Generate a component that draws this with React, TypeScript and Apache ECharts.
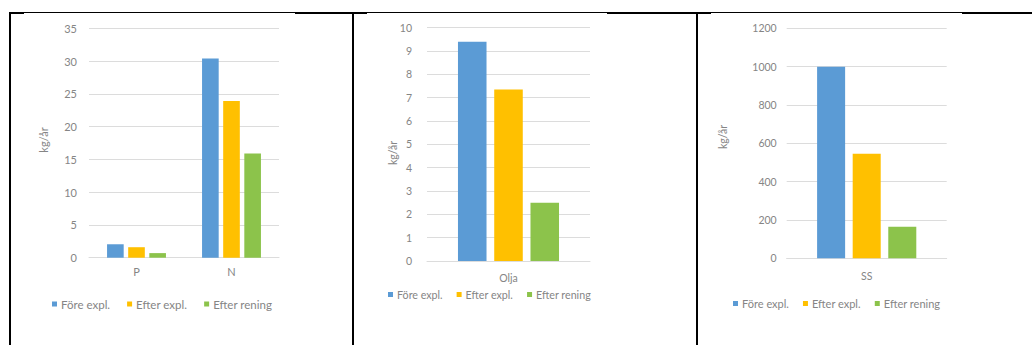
import React, { useEffect, useRef } from "react";
import * as echarts from "echarts";

// ---- data ----
const seriesNames = ["Före expl.", "Efter expl.", "Efter rening"];

const nutrientCategories = ["P", "N"];
const nutrientForeExpl = [2.05, 30.4];
const nutrientEfterExpl = [1.6, 23.9];
const nutrientEfterRening = [0.7, 15.9];

const oilCategories = ["Olja"];
const oilForeExpl = [9.4];
const oilEfterExpl = [7.35];
const oilEfterRening = [2.5];

const ssCategories = ["SS"];
const ssForeExpl = [1000];
const ssEfterExpl = [545];
const ssEfterRening = [165];

const yAxisName = "kg/år";

// ---- styling / layout ----
const colors = ["#5B9BD5", "#FFC000", "#8CC34B"];
const textColor = "#858585";
const gridColor = "#dcdcdc";
const fontFamily = "Lato, 'Open Sans', sans-serif";

const panels = [
  {
    categories: nutrientCategories,
    values: [nutrientForeExpl, nutrientEfterExpl, nutrientEfterRening],
    max: 35,
    interval: 5,
    grid: { left: 89, top: 28.3, width: 190, height: 229.4 },
    yLabelMargin: 12,
    xLabelMargin: 8,
    fontSize: 11,
    name: { x: 43, y: 140 },
    legend: { left: 52, top: 298, fontSize: 11.5, itemGap: 17 },
  },
  {
    categories: oilCategories,
    values: [oilForeExpl, oilEfterExpl, oilEfterRening],
    max: 10,
    interval: 1,
    grid: { left: 427, top: 27.7, width: 163, height: 233.3 },
    yLabelMargin: 15,
    xLabelMargin: 11,
    fontSize: 10.5,
    name: { x: 393, y: 153 },
    legend: { left: 388, top: 289, fontSize: 10.7, itemGap: 14 },
  },
  {
    categories: ssCategories,
    values: [ssForeExpl, ssEfterExpl, ssEfterRening],
    max: 1200,
    interval: 200,
    grid: { left: 786.7, top: 28.3, width: 160, height: 230 },
    yLabelMargin: 10,
    xLabelMargin: 12,
    fontSize: 10.5,
    name: { x: 723, y: 137 },
    legend: { left: 733, top: 298, fontSize: 11, itemGap: 14 },
  },
];

export default function App() {
  const ref = useRef<HTMLDivElement>(null);

  useEffect(() => {
    if (!ref.current) return;
    const chart = echarts.init(ref.current, null, { renderer: "svg" });

    const grids = panels.map((p) => ({ ...p.grid, containLabel: false }));
    const xAxes = panels.map((p, i) => ({
      type: "category",
      gridIndex: i,
      data: p.categories,
      axisTick: { show: false },
      axisLine: { lineStyle: { color: gridColor, width: 1 } },
      axisLabel: {
        color: textColor,
        fontSize: p.fontSize,
        fontFamily,
        margin: p.xLabelMargin,
      },
    }));
    const yAxes = panels.map((p, i) => ({
      type: "value",
      gridIndex: i,
      min: 0,
      max: p.max,
      interval: p.interval,
      axisLine: { show: false },
      axisTick: { show: false },
      splitLine: { lineStyle: { color: gridColor, width: 1 } },
      axisLabel: {
        color: textColor,
        fontSize: p.fontSize,
        fontFamily,
        margin: p.yLabelMargin,
        formatter: (v: number) => String(v),
      },
    }));
    const series: any[] = [];
    panels.forEach((p, i) => {
      seriesNames.forEach((name, k) => {
        series.push({
          type: "bar",
          name,
          xAxisIndex: i,
          yAxisIndex: i,
          data: p.values[k],
          itemStyle: { color: colors[k] },
          barGap: "27%",
          barCategoryGap: "38%",
        });
      });
    });
    const legends = panels.map((p) => ({
      data: seriesNames,
      left: p.legend.left,
      top: p.legend.top,
      padding: 0,
      itemWidth: 5,
      itemHeight: 5,
      itemGap: p.legend.itemGap,
      icon: "rect",
      textStyle: {
        color: textColor,
        fontSize: p.legend.fontSize,
        fontFamily,
        padding: [0, 0, 0, -1],
      },
    }));

    const black = "#000000";
    const graphic: any[] = [
      // top border (1px full, extra 1px where not covered by chart images)
      { type: "rect", shape: { x: 9, y: 12, width: 1023, height: 1 }, style: { fill: black } },
      { type: "rect", shape: { x: 9, y: 13, width: 15, height: 1 }, style: { fill: black } },
      { type: "rect", shape: { x: 295, y: 13, width: 72, height: 1 }, style: { fill: black } },
      { type: "rect", shape: { x: 607, y: 13, width: 104, height: 1 }, style: { fill: black } },
      { type: "rect", shape: { x: 962, y: 13, width: 70, height: 1 }, style: { fill: black } },
      // vertical borders
      { type: "rect", shape: { x: 9, y: 12, width: 2, height: 333 }, style: { fill: black } },
      { type: "rect", shape: { x: 352, y: 12, width: 2, height: 333 }, style: { fill: black } },
      { type: "rect", shape: { x: 696, y: 12, width: 2, height: 333 }, style: { fill: black } },
      // y-axis names
      ...panels.map((p) => ({
        type: "text",
        x: p.name.x,
        y: p.name.y,
        rotation: Math.PI / 2,
        style: {
          text: yAxisName,
          fill: textColor,
          fontSize: p.fontSize,
          fontFamily,
          align: "center",
          verticalAlign: "middle",
        },
      })),
    ];

    chart.setOption({
      animation: false,
      backgroundColor: "#ffffff",
      grid: grids,
      xAxis: xAxes,
      yAxis: yAxes,
      series,
      legend: legends,
      graphic,
    });

    return () => chart.dispose();
  }, []);

  return (
    <div
      ref={ref}
      style={{ position: "absolute", left: 0, top: 0, width: 1032, height: 345, background: "#fff" }}
    />
  );
}
